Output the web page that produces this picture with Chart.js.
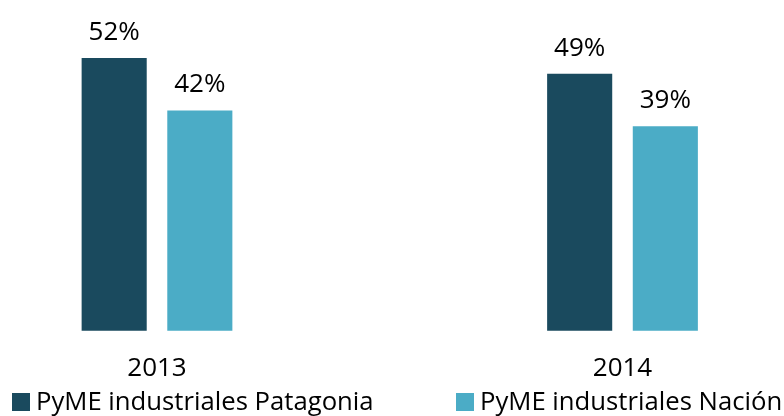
<!DOCTYPE html>
<html>
<head>
<meta charset="utf-8">
<script src="https://cdn.jsdelivr.net/npm/chart.js@4/dist/chart.umd.min.js"></script>
<style>
  html, body { margin: 0; padding: 0; background: #fff; }
  #wrap { position: relative; width: 784px; height: 416px; }
  #legend { position: absolute; left: 0; top: 386px; width: 784px; height: 30px;
            font-family: "Open Sans", sans-serif; font-size: 25.7px; color: #000; }
  .item { position: absolute; top: 0; white-space: nowrap; line-height: 30px; }
  .box { display: inline-block; width: 18px; height: 18px; vertical-align: -1px; margin-right: 6px; }
</style>
</head>
<body>
<div id="wrap">
  <canvas id="myChart" width="784" height="416"></canvas>
  <div id="legend"></div>
</div>
<script>
const categories = ["2013", "2014"];
const seriesNames = ["PyME industriales Patagonia", "PyME industriales Nación"];
const patagoniaValues = [52, 49];
const nacionValues = [42, 39];
const colors = ["#1a4a5e", "#4bacc6"];
const legendLeft = [12, 456];

const fontFamily = "'Open Sans', sans-serif";

// percent labels over each bar
const valueLabels = {
    id: "valueLabels",
    afterDatasetsDraw(chart) {
        const ctx = chart.ctx;
        ctx.save();
        ctx.font = "26px " + fontFamily;
        ctx.fillStyle = "#000";
        ctx.textAlign = "center";
        ctx.textBaseline = "alphabetic";
        chart.data.datasets.forEach((ds, i) => {
            chart.getDatasetMeta(i).data.forEach((bar, j) => {
                ctx.fillText(ds.data[j] + "%", bar.x, bar.y - 18);
            });
        });
        ctx.restore();
    }
};

const data = {
    labels: categories,
    datasets: [
        { label: seriesNames[0], data: patagoniaValues, backgroundColor: colors[0] },
        { label: seriesNames[1], data: nacionValues, backgroundColor: colors[1] }
    ]
};

const config = {
    type: "bar",
    data: data,
    options: {
        responsive: false,
        animation: false,
        layout: { padding: { left: 157, right: 161.5, top: 16, bottom: 10 } },
        datasets: { bar: { categoryPercentage: 0.368, barPercentage: 0.76, clip: false } },
        plugins: { legend: { display: false }, tooltip: { enabled: false } },
        scales: {
            x: {
                offset: false,
                grid: { display: false, drawTicks: false, tickLength: 0 },
                border: { display: false },
                ticks: { color: "#000", padding: 22, font: { family: fontFamily, size: 26 } }
            },
            y: { display: false, min: 0, max: 60 }
        }
    },
    plugins: [valueLabels]
};

const myChart = new Chart(document.getElementById("myChart").getContext("2d"), config);

// legend drawn as html under the axis
const legend = document.getElementById("legend");
myChart.data.datasets.forEach((ds, i) => {
    const item = document.createElement("div");
    item.className = "item";
    item.style.left = legendLeft[i] + "px";
    item.innerHTML = '<span class="box" style="background:' + ds.backgroundColor + '"></span>' + ds.label;
    legend.appendChild(item);
});
</script>
</body>
</html>
